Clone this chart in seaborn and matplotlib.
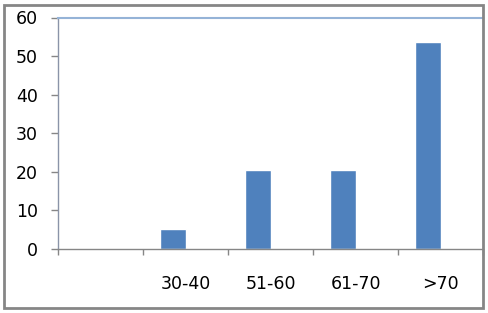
import numpy as np
import pandas as pd
import matplotlib
matplotlib.use("Agg")
import matplotlib.pyplot as plt
from matplotlib.patches import Rectangle
from matplotlib.ticker import FixedLocator, NullFormatter
import seaborn as sns

categories = ["", "30-40", "51-60", "61-70", ">70"]
series1 = [0, 5.1, 20.4, 20.4, 53.6]
series2 = [np.nan, np.nan, np.nan, np.nan, np.nan]
y_ticks = [0, 10, 20, 30, 40, 50, 60]

df = pd.DataFrame({
    "cat": categories * 2,
    "val": series1 + series2,
    "series": ["s1"] * len(categories) + ["s2"] * len(categories),
})

sns.set_style("white")
plt.rcParams["font.family"] = ["DejaVu Sans"]

fig = plt.figure(figsize=(4.88, 3.13), dpi=100)
ax = fig.add_axes([58 / 488, 1 - 248.7 / 313, (483 - 58) / 488, (248.7 - 17.5) / 313])

sns.barplot(data=df, x="cat", y="val", hue="series", hue_order=["s1", "s2"],
            order=categories, palette=["#4F81BD", "#4F81BD"], width=0.59,
            dodge=True, legend=False, saturation=1, ax=ax)

ax.set_xlim(-0.5, 4.5)
ax.set_ylim(0, 60)
ax.set_yticks(y_ticks)
ax.set_xlabel("")
ax.set_ylabel("")

# ticks at category boundaries, labels at centers
ax.xaxis.set_major_locator(FixedLocator(np.arange(-0.5, 5, 1)))
ax.xaxis.set_major_formatter(NullFormatter())
ax.xaxis.set_minor_locator(FixedLocator(np.arange(0, 5)))
ax.set_xticklabels(categories, minor=True)
ax.tick_params(axis="x", which="major", direction="out", length=4.3, width=1, color="#868686", bottom=True)
ax.tick_params(axis="x", which="minor", length=0, pad=19, labelsize=12.5, labelcolor="black")
ax.tick_params(axis="y", direction="out", length=5, width=1, color="#868686", left=True, pad=9.4,
               labelsize=12.5, labelcolor="black")

ax.spines["left"].set_color("#8A94A8")
ax.spines["left"].set_linewidth(1)
ax.spines["bottom"].set_color("#868686")
ax.spines["bottom"].set_linewidth(1)
ax.spines["top"].set_color("#95B3D7")
ax.spines["top"].set_linewidth(1.5)
ax.spines["right"].set_visible(False)

fig.patches.append(Rectangle((3.5 / 488, 1 - 307.5 / 313), (482.5 - 3.5) / 488, (307.5 - 5) / 313,
                             transform=fig.transFigure, fill=False, edgecolor="#868686",
                             linewidth=2))

fig.savefig("out.png", dpi=100)
